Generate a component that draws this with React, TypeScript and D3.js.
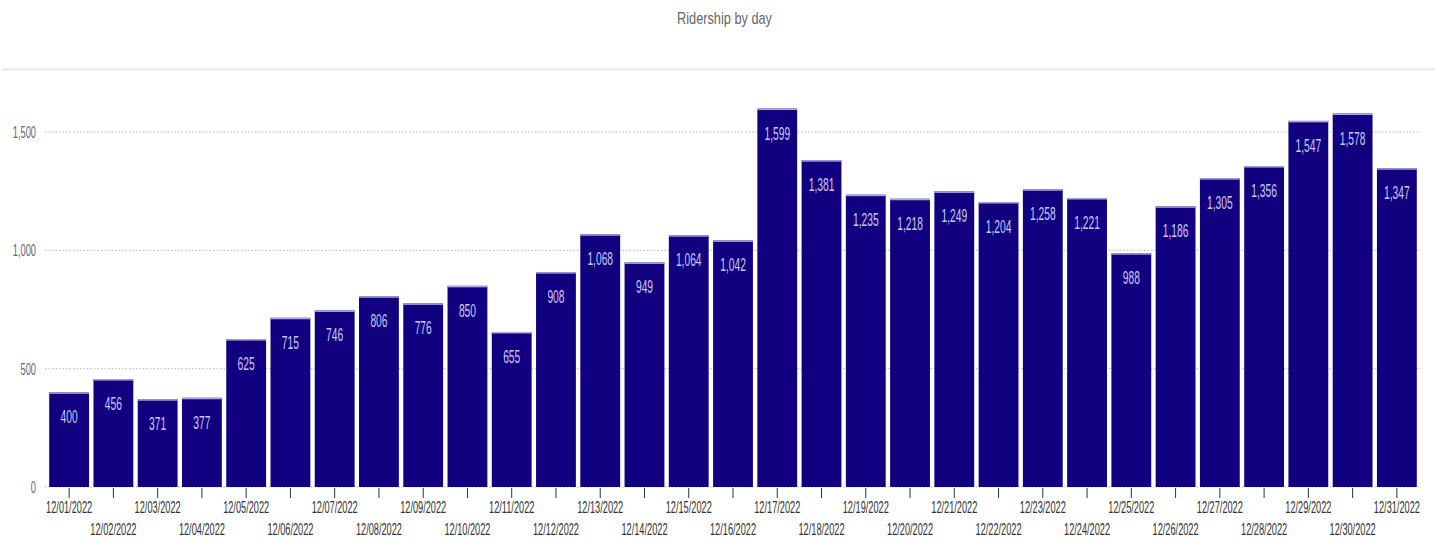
import React from "react";
import * as d3 from "d3";

const dates: string[] = [
  "12/01/2022","12/02/2022","12/03/2022","12/04/2022","12/05/2022","12/06/2022","12/07/2022","12/08/2022",
  "12/09/2022","12/10/2022","12/11/2022","12/12/2022","12/13/2022","12/14/2022","12/15/2022","12/16/2022",
  "12/17/2022","12/18/2022","12/19/2022","12/20/2022","12/21/2022","12/22/2022","12/23/2022","12/24/2022",
  "12/25/2022","12/26/2022","12/27/2022","12/28/2022","12/29/2022","12/30/2022","12/31/2022",
];
const riders: number[] = [
  400, 456, 371, 377, 625, 715, 746, 806, 776, 850, 655, 908, 1068, 949, 1064, 1042,
  1599, 1381, 1235, 1218, 1249, 1204, 1258, 1221, 988, 1186, 1305, 1356, 1547, 1578, 1347,
];
const yTicks: number[] = [0, 500, 1000, 1500];
const title = "Ridership by day";

const W = 1435;
const H = 542;
const FONT = "'Liberation Sans', Arial, sans-serif";

export default function App() {
  const x = d3.scaleBand<string>().domain(dates).range([47, 1419]).paddingInner(0.1).paddingOuter(0.05);
  const y = d3.scaleLinear().domain([0, 1500]).range([487, 132]);
  const fmt = d3.format(",");
  const bw = x.bandwidth();

  return (
    <svg width={W} height={H} style={{ position: "absolute", left: 0, top: 0, background: "#fff" }}>
      <text transform={`translate(${W / 2 + 7},24) scale(0.75,1)`} textAnchor="middle" fontFamily={FONT} fontSize={17} fill="#666">
        {title}
      </text>
      <rect x={2} y={68} width={W - 2} height={2.5} fill="#ececec" />

      {yTicks.map((t) => (
        <g key={t}>
          <line x1={45} x2={1421} y1={y(t)} y2={y(t)} stroke="#b5b5b5" strokeWidth={1} strokeDasharray="1.5 2" />
          <text transform={`translate(36,${y(t) + 6}) scale(0.58,1)`} textAnchor="end" fontFamily={FONT} fontSize={16} fill="#666">
            {fmt(t)}
          </text>
        </g>
      ))}

      {dates.map((d, i) => {
        const x0 = x(d)!;
        const cx = x0 + bw / 2;
        const top = y(riders[i]);
        return (
          <g key={d}>
            <rect x={x0} y={top} width={bw} height={y(0) - top} fill="#110080" />
            <rect x={x0} y={top} width={bw} height={1.5} fill="#a9a4e0" />
            <text transform={`translate(${cx},${top + 31}) scale(0.57,1)`} textAnchor="middle" fontFamily={FONT} fontSize={18} fill="#cbc9f0">
              {fmt(riders[i])}
            </text>
            <line x1={cx} x2={cx} y1={488} y2={498} stroke="#333" strokeWidth={1} />
            <text transform={`translate(${cx},${i % 2 === 0 ? 513 : 535}) scale(0.575,1)`} textAnchor="middle" fontFamily={FONT} fontSize={16} fill="#333">
              {d}
            </text>
          </g>
        );
      })}
    </svg>
  );
}
